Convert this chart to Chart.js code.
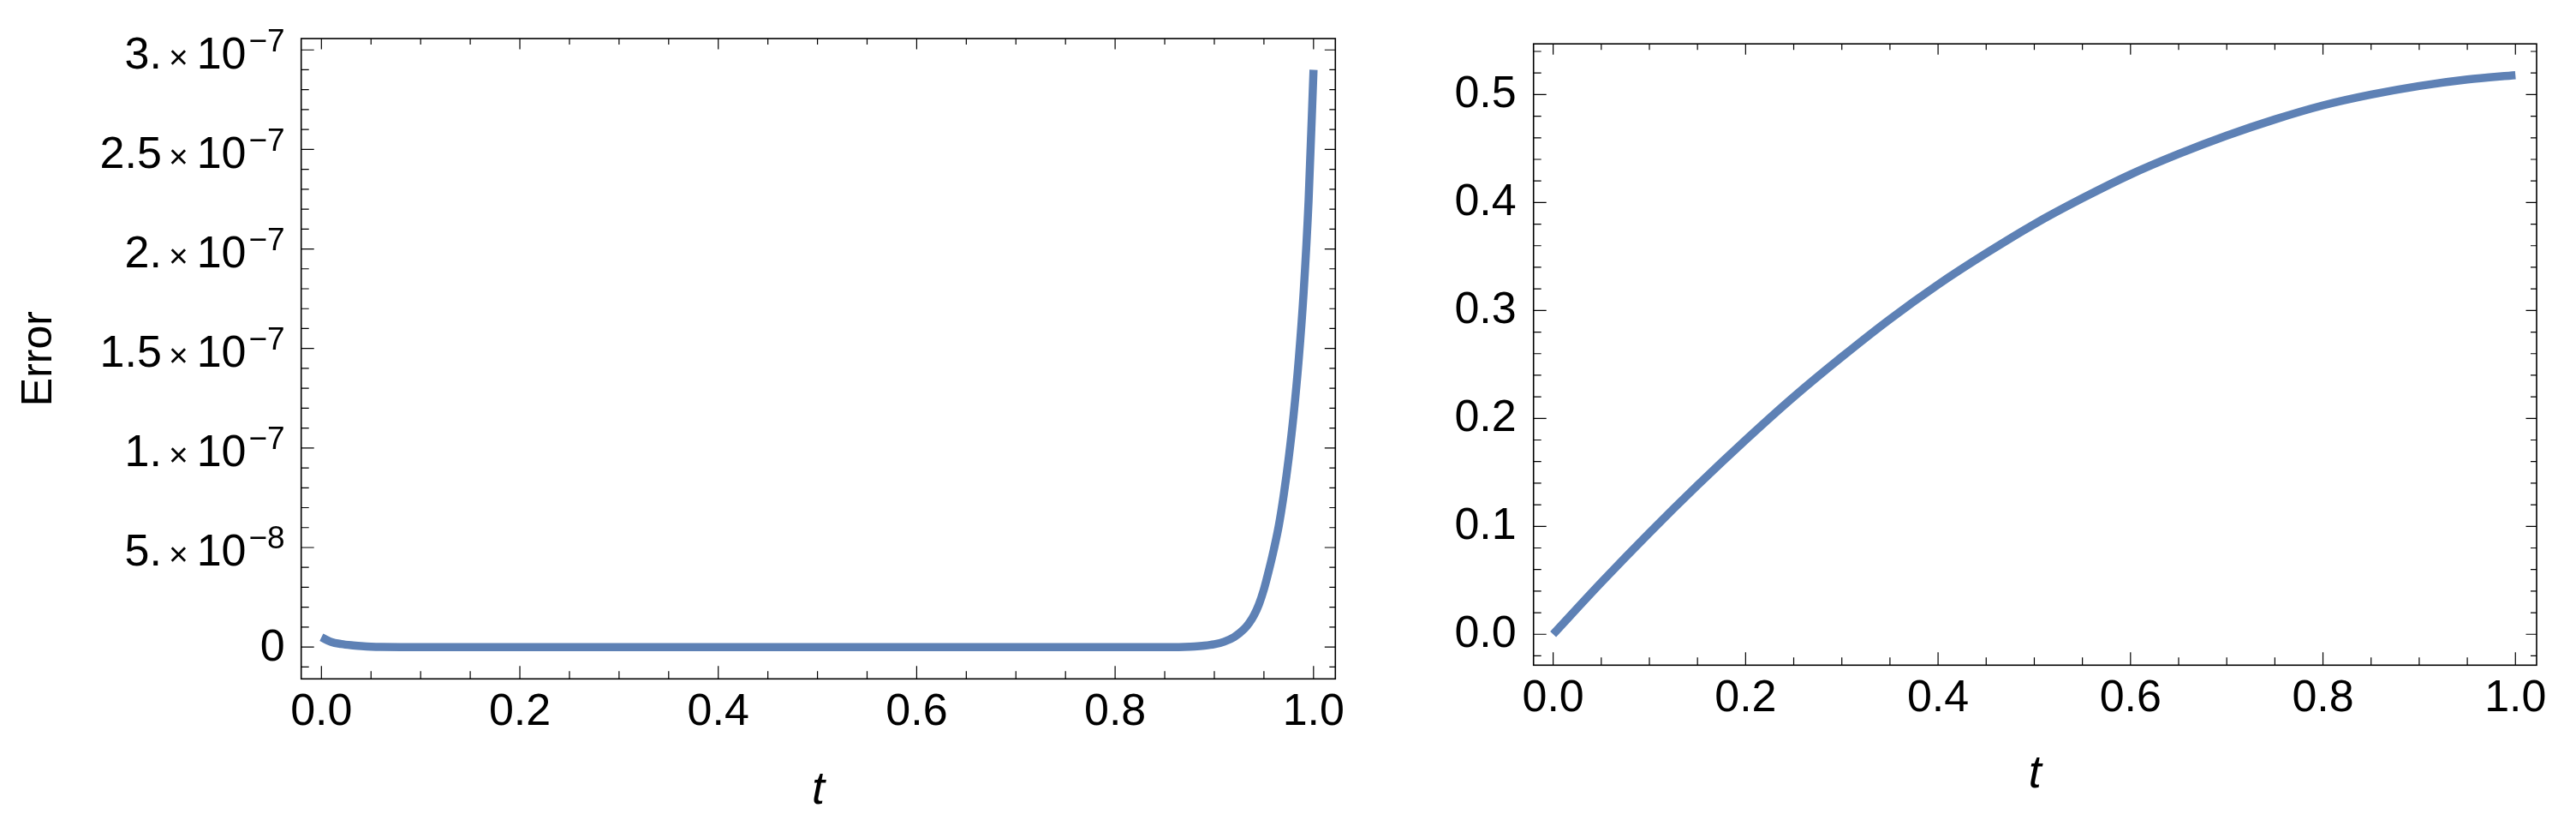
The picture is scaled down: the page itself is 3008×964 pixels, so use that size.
<!DOCTYPE html>
<html>
<head>
<meta charset="utf-8">
<script src="https://cdn.jsdelivr.net/npm/chart.js@4"></script>
<style>
  html, body { margin: 0; padding: 0; background: #fff; }
  #wrap { position: relative; width: 3008px; height: 964px; }
  .panel { position: absolute; top: 0; height: 964px; }
  #left { left: 0; width: 1620px; }
  #right { left: 1620px; width: 1388px; }
</style>
</head>
<body>
<div id="wrap">
  <div class="panel" id="left"><canvas id="errChart"></canvas></div>
  <div class="panel" id="right"><canvas id="solChart"></canvas></div>
</div>
<script>
// left panel: error against t
var errT = [0, 0.01, 0.02, 0.03, 0.04, 0.05, 0.06, 0.08, 0.1, 0.2, 0.3, 0.4, 0.5, 0.6, 0.7, 0.8,
  0.86, 0.87, 0.88, 0.89, 0.9, 0.91, 0.92, 0.93, 0.935, 0.94, 0.945, 0.95, 0.955, 0.96, 0.965,
  0.97, 0.975, 0.98, 0.985, 0.99, 0.995, 1.0];
var errVal = [4.9e-9, 2.5e-9, 1.5e-9, 0.9e-9, 0.5e-9, 0.2e-9, 0.05e-9, 0, 0, 0, 0, 0, 0, 0, 0, 0,
  0, 0.1e-9, 0.3e-9, 0.7e-9, 1.4e-9, 2.7e-9, 5.0e-9, 9.0e-9, 1.2e-8, 1.6e-8, 2.15e-8, 2.9e-8, 3.85e-8, 4.9e-8, 6.1e-8,
  7.65e-8, 9.5e-8, 1.17e-7, 1.44e-7, 1.78e-7, 2.24e-7, 2.90e-7];

// right panel: solution against t
var solT = [0, 0.05, 0.1, 0.15, 0.2, 0.25, 0.3, 0.35, 0.4, 0.45, 0.5, 0.55, 0.6, 0.65, 0.7, 0.75, 0.8, 0.85, 0.9, 0.95, 1.0];
var solVal = [0, 0.048, 0.094, 0.138, 0.180, 0.220, 0.257, 0.292, 0.324, 0.353, 0.380, 0.404, 0.426, 0.445, 0.462, 0.477, 0.490, 0.500, 0.508, 0.514, 0.518];

// tick labels
var tTicks = [0, 0.2, 0.4, 0.6, 0.8, 1.0];
var errTickValues = [0, 5e-8, 1e-7, 1.5e-7, 2e-7, 2.5e-7, 3e-7];
var errTickMantissa = ['0', '5.', '1.', '1.5', '2.', '2.5', '3.'];
var errTickExponent = ['', '\u22128', '\u22127', '\u22127', '\u22127', '\u22127', '\u22127'];
var solTicks = [0, 0.1, 0.2, 0.3, 0.4, 0.5];

var FONT = '"Liberation Sans", Arial, sans-serif';
var LINE = 'rgb(94, 129, 181)';

Chart.defaults.font.family = FONT;
Chart.defaults.color = '#000';

// Mathematica style frame with inward ticks on all four sides
var frameTicks = {
  id: 'frameTicks',
  afterDraw: function (chart, args, o) {
    var ctx = chart.ctx, a = chart.chartArea;
    var xs = chart.scales.x, ys = chart.scales.y;
    ctx.save();
    ctx.strokeStyle = '#000';
    ctx.lineWidth = 1.2;
    ctx.beginPath();
    var k0 = Math.ceil(xs.min / o.xStep - 1e-6), k1 = Math.floor(xs.max / o.xStep + 1e-6);
    for (var k = k0; k <= k1; k++) {
      var px = xs.getPixelForValue(k * o.xStep);
      var major = k % o.xEvery === 0;
      ctx.moveTo(px, a.bottom); ctx.lineTo(px, a.bottom - (major ? 15 : 9));
      ctx.moveTo(px, a.top); ctx.lineTo(px, a.top + (major ? 12.5 : 7));
    }
    k0 = Math.ceil(ys.min / o.yStep - 1e-6); k1 = Math.floor(ys.max / o.yStep + 1e-6);
    for (k = k0; k <= k1; k++) {
      var py = ys.getPixelForValue(k * o.yStep);
      major = k % o.yEvery === 0;
      ctx.moveTo(a.left, py); ctx.lineTo(a.left + (major ? 15 : 9), py);
      ctx.moveTo(a.right, py); ctx.lineTo(a.right - (major ? 12.5 : 7), py);
    }
    ctx.stroke();
    ctx.lineWidth = 1.6;
    ctx.strokeRect(a.left, a.top, a.right - a.left, a.bottom - a.top);
    ctx.restore();
  }
};

// y labels of the error panel, drawn as mantissa x 10^exponent
var errLabels = {
  id: 'errLabels',
  afterDraw: function (chart) {
    var ctx = chart.ctx, a = chart.chartArea, ys = chart.scales.y;
    var right = a.left - 19;
    ctx.save();
    ctx.fillStyle = '#000';
    ctx.textAlign = 'left';
    ctx.textBaseline = 'alphabetic';
    errTickValues.forEach(function (v, i) {
      var py = ys.getPixelForValue(v);
      var man = errTickMantissa[i], ex = errTickExponent[i];
      ctx.font = '52px ' + FONT;
      if (!ex) {
        ctx.fillText(man, right - ctx.measureText(man).width, py + 16);
        return;
      }
      var base = py + 21.5;
      ctx.font = '37px ' + FONT;
      var x = right - ctx.measureText(ex).width;
      ctx.fillText(ex, x, base - 20);
      ctx.font = '52px ' + FONT;
      x -= 3 + ctx.measureText('10').width;
      ctx.fillText('10', x, base);
      ctx.font = '39px ' + FONT;
      x -= 10 + ctx.measureText('\u00d7').width;
      ctx.fillText('\u00d7', x, base);
      ctx.font = '52px ' + FONT;
      x -= 8 + ctx.measureText(man).width;
      ctx.fillText(man, x, base);
    });
    ctx.restore();
  }
};

function lineSet(xs, ys) {
  return {
    data: xs.map(function (t, i) { return { x: t, y: ys[i] }; }),
    borderColor: LINE,
    borderWidth: 9.5,
    borderCapStyle: 'butt',
    pointRadius: 0,
    fill: false,
    cubicInterpolationMode: 'monotone'
  };
}

function xAxis(height, titlePad) {
  return {
    type: 'linear',
    min: -0.0204,
    max: 1.022,
    afterBuildTicks: function (s) { s.ticks = tTicks.map(function (v) { return { value: v }; }); },
    afterFit: function (s) { s.height = height; },
    grid: { display: false, drawTicks: false },
    border: { display: false },
    ticks: {
      padding: 8,
      autoSkip: false,
      maxRotation: 0,
      font: { size: 52 },
      color: '#000',
      callback: function (v) { return v.toFixed(1); }
    },
    title: {
      display: true,
      text: 't',
      color: '#000',
      font: { size: 54, style: 'italic' },
      padding: { top: 0, bottom: titlePad }
    }
  };
}

new Chart(document.getElementById('errChart'), {
  type: 'line',
  data: { datasets: [lineSet(errT, errVal)] },
  options: {
    animation: false,
    responsive: true,
    maintainAspectRatio: false,
    devicePixelRatio: 1,
    layout: { padding: { left: 0, right: 60.7, top: 45, bottom: 0 } },
    plugins: {
      legend: { display: false },
      tooltip: { enabled: false },
      frameTicks: { xStep: 0.05, xEvery: 4, yStep: 1e-8, yEvery: 5 }
    },
    scales: {
      x: xAxis(171.7, 9),
      y: {
        type: 'linear',
        min: -1.6e-8,
        max: 3.057e-7,
        afterFit: function (s) { s.width = 351.7; },
        grid: { display: false, drawTicks: false },
        border: { display: false },
        ticks: { display: false },
        title: {
          display: true,
          text: 'Error',
          color: '#000',
          font: { size: 50 },
          padding: { top: 16, bottom: 0 }
        }
      }
    }
  },
  plugins: [frameTicks, errLabels]
});

new Chart(document.getElementById('solChart'), {
  type: 'line',
  data: { datasets: [lineSet(solT, solVal)] },
  options: {
    animation: false,
    responsive: true,
    maintainAspectRatio: false,
    devicePixelRatio: 1,
    layout: { padding: { left: 0, right: 46, top: 51, bottom: 0 } },
    plugins: {
      legend: { display: false },
      tooltip: { enabled: false },
      frameTicks: { xStep: 0.05, xEvery: 4, yStep: 0.02, yEvery: 5 }
    },
    scales: {
      x: xAxis(187.7, 27.6),
      y: {
        type: 'linear',
        min: -0.0286,
        max: 0.547,
        afterBuildTicks: function (s) { s.ticks = solTicks.map(function (v) { return { value: v }; }); },
        afterFit: function (s) { s.width = 170.7; },
        grid: { display: false, drawTicks: false },
        border: { display: false },
        ticks: {
          padding: 20,
          font: { size: 52 },
          color: '#000',
          callback: function (v) { return v.toFixed(1); }
        }
      }
    }
  },
  plugins: [frameTicks]
});
</script>
</body>
</html>
